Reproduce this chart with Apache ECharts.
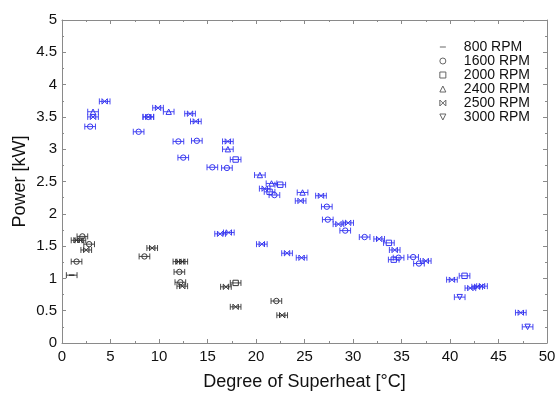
<!DOCTYPE html>
<html>
<head>
<meta charset="utf-8">
<script src="https://cdn.jsdelivr.net/npm/echarts@6/dist/echarts.min.js"></script>
<style>
  html, body { margin: 0; padding: 0; background: #fff; }
  #chart { width: 557px; height: 394px; }
</style>
</head>
<body>
<div id="chart"></div>
<script>
// legend labels
const rpmNames = ['800 RPM', '1600 RPM', '2000 RPM', '2400 RPM', '2500 RPM', '3000 RPM'];
const rpmSymbols = ['dash', 'circle', 'square', 'triangle', 'bowtie', 'down'];

// x tick labels 0..50, y 0..5
const xTicks = [0, 5, 10, 15, 20, 25, 30, 35, 40, 45, 50];
const yTicks = [0, 0.5, 1, 1.5, 2, 2.5, 3, 3.5, 4, 4.5, 5];

// superheat half width of error bars [°C]
const xErr = 0.55;

// black points [superheat, power]
const black800 = [[1.0, 1.05]];
const black1600 = [[2.1, 1.65], [2.8, 1.53], [1.5, 1.26], [8.5, 1.34], [12.1, 1.10], [12.2, 0.94], [22.1, 0.65]];
const black2000 = [[17.9, 0.93]];
const black2400 = [];
const black2500 = [[1.5, 1.59], [1.9, 1.59], [2.5, 1.44], [9.3, 1.47], [12.0, 1.26], [12.4, 1.26], [12.4, 0.88],
  [16.9, 0.87], [17.9, 0.56], [22.7, 0.43]];
const black3000 = [];

// blue points
const blue800 = [];
const blue1600 = [[2.9, 3.35], [7.9, 3.27], [12.0, 3.12], [13.9, 3.13], [12.5, 2.87], [15.5, 2.72], [17.0, 2.71],
  [21.9, 2.29], [27.3, 2.11], [27.4, 1.91], [29.2, 1.74], [31.2, 1.64], [34.7, 1.32], [36.2, 1.33], [36.8, 1.23], [8.9, 3.50]];
const blue2000 = [[17.9, 2.84], [22.5, 2.45], [21.4, 2.34], [33.7, 1.55], [34.2, 1.29], [41.5, 1.04]];
const blue2400 = [[3.2, 3.58], [11.0, 3.58], [17.1, 3.00], [20.4, 2.60], [21.6, 2.47], [24.8, 2.33]];
const blue2500 = [[4.4, 3.74], [3.2, 3.50], [8.9, 3.50], [9.9, 3.64], [13.2, 3.55], [13.8, 3.43], [17.1, 3.12],
  [20.9, 2.39], [24.6, 2.20], [26.7, 2.28], [28.5, 1.84], [29.5, 1.86], [32.7, 1.61], [34.3, 1.44], [37.5, 1.27],
  [40.2, 0.98], [42.1, 0.85], [42.8, 0.87], [43.3, 0.88], [47.3, 0.47], [16.3, 1.69], [17.2, 1.71], [20.6, 1.53],
  [23.2, 1.39], [24.7, 1.32]];
const blue3000 = [[41.0, 0.71], [48.0, 0.25]];

const blackSets = [black800, black1600, black2000, black2400, black2500, black3000];
const blueSets = [blue800, blue1600, blue2000, blue2400, blue2500, blue3000];

const BLACK = '#333';
const BLUE = '#3535f0';

// outline marker built from graphic elements
function markerShape(kind, cx, cy, r, color){
  let st = { stroke: color, fill: 'none', lineWidth: 1 };
  if (kind == 'circle') return { type: 'circle', shape: { cx: cx, cy: cy, r: r }, style: st };
  if (kind == 'square') return { type: 'rect', shape: { x: cx - r, y: cy - r, width: 2 * r, height: 2 * r }, style: st };
  if (kind == 'triangle') return { type: 'polygon', shape: { points: [[cx, cy - r], [cx + r, cy + r], [cx - r, cy + r]] }, style: st };
  if (kind == 'down') return { type: 'polygon', shape: { points: [[cx - r, cy - r], [cx + r, cy - r], [cx, cy + r]] }, style: st };
  if (kind == 'bowtie') return { type: 'polygon', shape: { points: [[cx - r, cy - r], [cx + r, cy + r], [cx + r, cy - r], [cx - r, cy + r]] }, style: st };
  return { type: 'line', shape: { x1: cx - r, y1: cy, x2: cx + r, y2: cy }, style: { stroke: color, lineWidth: 1.5 } };
}

function makeSeries(name, kind, data, color){
  return {
    type: 'custom',
    name: name,
    data: data,
    encode: { x: 0, y: 1 },
    itemStyle: { color: color },
    renderItem: function(params, api){
      let x = api.value(0), y = api.value(1);
      let c = api.coord([x, y]);
      let a = api.coord([x - xErr, y]);
      let b = api.coord([x + xErr, y]);
      let ls = { stroke: color, lineWidth: 0.9 };
      return {
        type: 'group',
        children: [
          { type: 'line', shape: { x1: a[0], y1: c[1], x2: b[0], y2: c[1] }, style: ls },
          { type: 'line', shape: { x1: a[0], y1: c[1] - 3, x2: a[0], y2: c[1] + 3 }, style: ls },
          { type: 'line', shape: { x1: b[0], y1: c[1] - 3, x2: b[0], y2: c[1] + 3 }, style: ls },
          markerShape(kind, c[0], c[1], 2.7, color)
        ]
      };
    }
  };
}

const iconPaths = {
  dash: 'path://M0,4 L10,4 L10,5.5 L0,5.5 Z',
  circle: 'circle',
  square: 'rect',
  triangle: 'path://M5,0 L10,10 L0,10 Z',
  bowtie: 'path://M0,0 L10,10 L10,0 L0,10 Z',
  down: 'path://M0,0 L10,0 L5,10 Z'
};

let series = [];
rpmNames.forEach(function(n, i){ series.push(makeSeries(n, rpmSymbols[i], blackSets[i], BLACK)); });
rpmNames.forEach(function(n, i){ series.push(makeSeries(n, rpmSymbols[i], blueSets[i], BLUE)); });

const axisGray = '#8a8a8a';
const txt = { color: '#111', fontFamily: 'Liberation Sans, Arial, sans-serif' };

function frameAxis(pos, min, max, interval){
  return {
    type: 'value', position: pos, min: min, max: max, interval: interval,
    axisLine: { show: true, onZero: false, lineStyle: { color: axisGray, width: 1 } },
    axisTick: { show: true, inside: true, length: 4, lineStyle: { color: axisGray } },
    minorTick: { show: true, splitNumber: 2, length: 2, lineStyle: { color: axisGray } },
    axisLabel: { show: false },
    splitLine: { show: false }
  };
}

let xMain = frameAxis('bottom', xTicks[0], xTicks[xTicks.length - 1], 5);
xMain.axisLabel = { show: true, fontSize: 15, margin: 6, color: txt.color, fontFamily: txt.fontFamily };
xMain.name = 'Degree of Superheat [°C]';
xMain.nameLocation = 'middle';
xMain.nameGap = 30;
xMain.nameMoveOverlap = false;
xMain.nameTextStyle = { fontSize: 18, color: txt.color, fontFamily: txt.fontFamily };

let yMain = frameAxis('left', yTicks[0], yTicks[yTicks.length - 1], 0.5);
yMain.axisLabel = { show: true, fontSize: 15, margin: 5, color: txt.color, fontFamily: txt.fontFamily };
yMain.name = 'Power [kW]';
yMain.nameLocation = 'middle';
yMain.nameGap = 33;
yMain.nameMoveOverlap = false;
yMain.nameTextStyle = { fontSize: 18, color: txt.color, fontFamily: txt.fontFamily };

let xTop = frameAxis('top', 0, 50, 5);
let yRight = frameAxis('right', 0, 5, 0.5);

const chart = echarts.init(document.getElementById('chart'), null, { renderer: 'canvas' });
chart.setOption({
  animation: false,
  backgroundColor: '#fff',
  grid: { left: 62, right: 10, top: 20, bottom: 51, outerBoundsMode: 'none', containLabel: false },
  xAxis: [xMain, xTop],
  yAxis: [yMain, yRight],
  legend: {
    orient: 'vertical',
    right: 22,
    top: 35,
    itemGap: 0,
    itemWidth: 6,
    itemHeight: 6,
    textStyle: { fontSize: 14, lineHeight: 14, color: txt.color, fontFamily: txt.fontFamily, padding: [0, 0, 0, 13] },
    data: rpmNames.map(function(n, i){
      let k = rpmSymbols[i];
      return {
        name: n,
        icon: iconPaths[k],
        itemStyle: k == 'dash' ? { color: '#555', borderWidth: 0 } : { color: 'none', borderColor: '#666', borderWidth: 1 }
      };
    })
  },
  series: series
});
</script>
</body>
</html>
